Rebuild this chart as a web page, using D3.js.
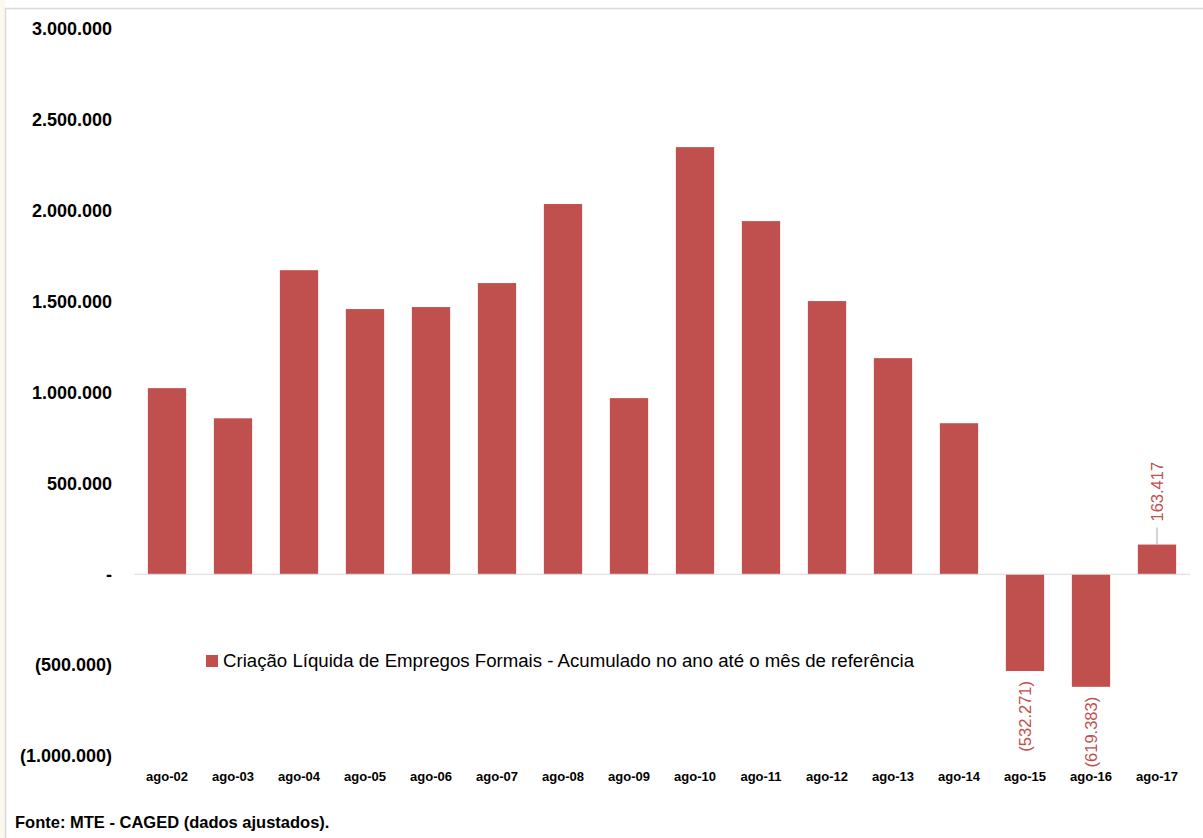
<!DOCTYPE html>
<html>
<head>
<meta charset="utf-8">
<script src="https://cdn.jsdelivr.net/npm/d3@7"></script>
<style>
  body { margin: 0; background: #fff; }
  svg { display: block; }
</style>
</head>
<body>
<script>
// data
const periods = ["ago-02", "ago-03", "ago-04", "ago-05", "ago-06", "ago-07", "ago-08", "ago-09",
  "ago-10", "ago-11", "ago-12", "ago-13", "ago-14", "ago-15", "ago-16", "ago-17"];
const netJobs = [1024000, 858000, 1673000, 1459000, 1470000, 1602000, 2037000, 969000,
  2350000, 1943000, 1503000, 1189000, 831000, -532271, -619383, 163417];
const labelled = ["ago-15", "ago-16", "ago-17"];
const yTicks = [-1000000, -500000, 0, 500000, 1000000, 1500000, 2000000, 2500000, 3000000];
const seriesName = "Criação Líquida de Empregos Formais - Acumulado no ano até o mês de referência";
const source = "Fonte: MTE - CAGED (dados ajustados).";

const W = 1203, H = 838;
const barColor = "#C0504D";
const font = "'Liberation Sans', Arial, sans-serif";

const svg = d3.select("body").append("svg")
  .attr("width", W)
  .attr("height", H)
  .style("font-family", font);

// faint page background on the far left + chart frame
svg.append("rect").attr("x", 0).attr("y", 0).attr("width", 5).attr("height", H).attr("fill", "#fbf8ef");
svg.append("line").attr("x1", 5).attr("x2", W).attr("y1", 8.5).attr("y2", 8.5)
  .attr("stroke", "#d9d9d9").attr("stroke-width", 1.5);
svg.append("line").attr("x1", 5.5).attr("x2", 5.5).attr("y1", 8).attr("y2", H)
  .attr("stroke", "#d9d9d9").attr("stroke-width", 1.5);

const x = d3.scaleBand()
  .domain(periods)
  .range([134, 1190])
  .paddingInner(0.42)
  .paddingOuter(0.21);

const y = d3.scaleLinear()
  .domain([-1000000, 3000000])
  .range([756, 29]);

const fmt = v => {
  if (v === 0) return "-";
  const s = d3.format(",")(Math.abs(v)).replace(/,/g, ".");
  return v < 0 ? `(${s})` : s;
};

// y axis labels (no axis line)
svg.append("g")
  .selectAll("text")
  .data(yTicks)
  .join("text")
  .attr("x", 112)
  .attr("y", d => y(d))
  .attr("dy", "0.35em")
  .attr("text-anchor", "end")
  .attr("font-weight", "bold")
  .attr("font-size", 18)
  .attr("fill", "#000")
  .text(fmt);

// bars
svg.append("g")
  .selectAll("rect")
  .data(netJobs)
  .join("rect")
  .attr("x", (d, i) => x(periods[i]))
  .attr("width", x.bandwidth())
  .attr("y", d => y(Math.max(0, d)))
  .attr("height", d => Math.abs(y(d) - y(0)))
  .attr("fill", barColor);

// zero baseline
svg.append("line")
  .attr("x1", 134).attr("x2", 1190)
  .attr("y1", y(0)).attr("y2", y(0))
  .attr("stroke", "#d9d9d9")
  .attr("stroke-width", 1);

// x labels
svg.append("g")
  .selectAll("text")
  .data(periods)
  .join("text")
  .attr("x", d => x(d) + x.bandwidth() / 2)
  .attr("y", 776)
  .attr("dy", "0.35em")
  .attr("text-anchor", "middle")
  .attr("font-weight", "bold")
  .attr("font-size", 13)
  .text(d => d);

// rotated data labels for the last three bars
const labelData = periods.map((p, i) => ({ p, v: netJobs[i] })).filter(d => labelled.includes(d.p));
labelData.forEach(d => {
  const cx = x(d.p) + x.bandwidth() / 2;
  let ty;
  if (d.v > 0) {
    // leader line from bar top up to label
    svg.append("line")
      .attr("x1", cx).attr("x2", cx)
      .attr("y1", y(d.v)).attr("y2", y(d.v) - 17)
      .attr("stroke", "#a6a6a6").attr("stroke-width", 1);
    ty = y(d.v) - 23;
  } else {
    ty = y(d.v) + 10;
  }
  svg.append("text")
    .attr("transform", `translate(${cx},${ty}) rotate(-90)`)
    .attr("text-anchor", d.v > 0 ? "start" : "end")
    .attr("dy", "0.35em")
    .attr("font-size", 16.5)
    .attr("fill", barColor)
    .text(fmt(d.v));
});

// legend
const lg = svg.append("g").attr("transform", "translate(206,661)");
lg.append("rect").attr("x", 0).attr("y", -6).attr("width", 12).attr("height", 12).attr("fill", barColor);
lg.append("text")
  .attr("x", 17)
  .attr("dy", "0.35em")
  .attr("font-size", 17.5)
  .attr("fill", "#000")
  .attr("textLength", 691)
  .attr("lengthAdjust", "spacingAndGlyphs")
  .text(seriesName);

// source
svg.append("text")
  .attr("x", 15)
  .attr("y", 822)
  .attr("dy", "0.35em")
  .attr("font-weight", "bold")
  .attr("font-size", 16.5)
  .text(source);
</script>
</body>
</html>
